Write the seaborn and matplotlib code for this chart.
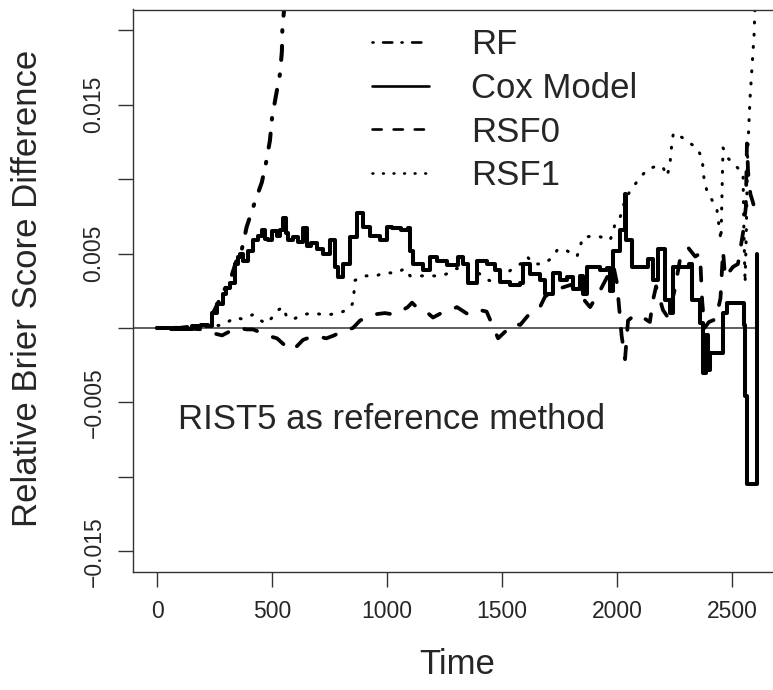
import matplotlib
matplotlib.use("Agg")
import matplotlib.pyplot as plt
from matplotlib.lines import Line2D
import seaborn as sns

# ---------------- data ----------------
cox_t = [0, 60, 150, 190, 222, 239, 260, 287, 300, 317, 339, 350, 361, 375, 395, 418, 440, 456, 470, 484,
         500, 520, 535, 549, 560, 571, 593, 615, 636, 651, 670, 694, 723, 752, 773, 788, 810, 839, 868, 897,
         926, 970, 999, 1020, 1060, 1091, 1100, 1113, 1157, 1187, 1216, 1260, 1309, 1331, 1352, 1391, 1435, 1471, 1491, 1535,
         1579, 1591, 1620, 1665, 1687, 1723, 1752, 1781, 1810, 1839, 1853, 1868, 1897, 1926, 1955, 1970, 1984, 2013, 2035, 2040,
         2064, 2135, 2157, 2180, 2209, 2230, 2243, 2312, 2325, 2361, 2375, 2385, 2395, 2404, 2461, 2477, 2552, 2557, 2565, 2610]
cox_v = [0, -0.0001, 0.0001, 0.0002, 0.0001, 0.001, 0.0016, 0.0023, 0.0027, 0.003, 0.0043, 0.0048, 0.005, 0.0045, 0.0052, 0.0059, 0.0062, 0.0066, 0.006, 0.0059,
         0.0065, 0.0062, 0.0066, 0.0074, 0.0064, 0.0059, 0.0061, 0.0058, 0.0067, 0.0055, 0.0057, 0.0053, 0.005, 0.0059, 0.0041, 0.0034, 0.0043, 0.0061, 0.0077, 0.0068,
         0.0062, 0.0059, 0.0068, 0.0067, 0.0066, 0.0067, 0.0052, 0.0043, 0.0039, 0.0048, 0.0045, 0.0042, 0.0048, 0.0043, 0.003, 0.0045, 0.0043, 0.0039, 0.0031, 0.0029,
         0.003, 0.0043, 0.0036, 0.0032, 0.0023, 0.0037, 0.0032, 0.0034, 0.0026, 0.0035, 0.0023, 0.0041, 0.0041, 0.0039, 0.004, 0.0025, 0.0052, 0.0066, 0.009, 0.0059,
         0.0041, 0.0046, 0.0032, 0.0053, 0.0019, 0.001, 0.0041, 0.0043, 0.0019, 0.0003, -0.003, -0.0005, -0.0028, -0.0017, 0.001, 0.0017, 0.0002, -0.0046, -0.0105, 0.005]

rf_t = [0, 100, 200, 230, 260, 290, 320, 345, 369, 390, 422, 456, 474, 491, 500, 517, 535, 543, 545, 552, 560]
rf_v = [0, 0, 0.0002, 0.0006, 0.0015, 0.0025, 0.0033, 0.0045, 0.0053, 0.0068, 0.0083, 0.0098, 0.0111, 0.0126, 0.0141, 0.0156, 0.0171, 0.0186, 0.0201, 0.0213, 0.0225]

rsf0_t = [0, 100, 200, 230, 283, 320, 354, 390, 418, 450, 478, 522, 565, 587, 610, 635, 670, 709, 736, 770,
          796, 852, 883, 939, 991, 1030, 1057, 1090, 1109, 1135, 1170, 1200, 1248, 1275, 1304, 1354, 1404, 1433, 1461, 1483,
          1510, 1557, 1579, 1622, 1665, 1687, 1720, 1760, 1800, 1840, 1883, 1926, 1960, 1984, 2000, 2020, 2035, 2048, 2080, 2113,
          2143, 2157, 2170, 2200, 2222, 2250, 2274, 2309, 2340, 2361, 2370, 2380, 2400, 2430, 2450, 2461, 2470, 2504, 2526, 2548,
          2560, 2565, 2570, 2580, 2590, 2609]
rsf0_v = [0, 0, -0.0001, -0.0003, -0.0005, -0.0002, 0, -0.0001, -0.0001, -0.0003, -0.0005, -0.0007, -0.0013, -0.0015, -0.0012, -0.0008, -0.0006, -0.0006, -0.0007, -0.0005,
          -0.0003, 0, 0.0005, 0.0009, 0.001, 0.0009, 0.0011, 0.0014, 0.0017, 0.0013, 0.0011, 0.0007, 0.0011, 0.0012, 0.0014, 0.0009, 0.0012, 0.0011, 0.0001, -0.0007,
          -0.0003, 0.0003, 0.0002, 0.001, 0.0014, 0.0021, 0.0025, 0.0027, 0.0029, 0.0022, 0.0014, 0.0025, 0.0035, 0.0042, 0.003, -0.0005, -0.0021, 0.0005, 0.0009, 0.0007,
          0.0004, 0.0019, 0.0028, 0.0012, 0.0007, 0.0025, 0.0046, 0.0054, 0.0048, 0.005, 0.0019, 0.0, 0.0004, 0.0006, 0.002, 0.0052, 0.0034, 0.0041, 0.0043, 0.0064,
          0.0081, 0.0124, 0.0105, 0.009, 0.0085, 0.0074]

rsf1_t = [0, 150, 220, 287, 339, 370, 418, 450, 478, 500, 526, 548, 565, 594, 635, 678, 720, 751, 790, 826,
          845, 852, 856, 861, 896, 954, 983, 1042, 1078, 1100, 1157, 1200, 1237, 1270, 1304, 1348, 1391, 1426, 1461, 1504,
          1548, 1580, 1609, 1637, 1681, 1717, 1743, 1781, 1826, 1852, 1913, 1970, 1984, 1991, 2013, 2035, 2057, 2100, 2135, 2180,
          2200, 2217, 2230, 2235, 2245, 2283, 2309, 2348, 2370, 2378, 2391, 2413, 2435, 2444, 2452, 2456, 2461, 2483, 2522, 2548,
          2552, 2557, 2562, 2568, 2578, 2587, 2596, 2602]
rsf1_v = [0, 0, 0.0001, 0.0002, 0.0007, 0.0006, 0.0009, 0.0005, 0.0003, 0.0007, 0.0012, 0.0014, 0.0007, 0.0006, 0.0009, 0.001, 0.0009, 0.0009, 0.001, 0.0012,
          0.0015, 0.0017, 0.0023, 0.0032, 0.0035, 0.0035, 0.0037, 0.0037, 0.004, 0.0035, 0.0035, 0.0035, 0.0035, 0.0037, 0.004, 0.0037, 0.0038, 0.0033, 0.0031, 0.0035,
          0.004, 0.0043, 0.0048, 0.0043, 0.0043, 0.0047, 0.0053, 0.0052, 0.0048, 0.0061, 0.0062, 0.0059, 0.0065, 0.007, 0.0074, 0.0086, 0.0092, 0.0101, 0.0107, 0.0109,
          0.0108, 0.0102, 0.0109, 0.0119, 0.0131, 0.0128, 0.0125, 0.0121, 0.0114, 0.0101, 0.0092, 0.0086, 0.0079, 0.0068, 0.0059, 0.0086, 0.0121, 0.0114, 0.0108, 0.0104,
          0.0063, 0.003, 0.0063, 0.0117, 0.0153, 0.0175, 0.0197, 0.0225]

series_names = ["RF", "Cox Model", "RSF0", "RSF1"]
y_ticks = [-0.015, -0.01, -0.005, 0, 0.005, 0.01, 0.015, 0.02]
y_ticklabels = ["\u22120.015", "", "\u22120.005", "", "0.005", "", "0.015", ""]
x_ticks = [0, 500, 1000, 1500, 2000, 2500]
x_ticklabels = ["0", "500", "1000", "1500", "2000", "2500"]
annotation = "RIST5 as reference method"
x_label = "Time"
y_label = "Relative Brier Score Difference"

# ---------------- style ----------------
sns.set_style("white")
plt.rcParams["font.family"] = ["Liberation Sans", "DejaVu Sans"]

W, H = 773, 690
fig = plt.figure(figsize=(W / 100, H / 100), dpi=100)
ax_left, ax_right, ax_top, ax_bottom = 133, 781.3, 9.5, 572
ax = fig.add_axes([ax_left / W, 1 - ax_bottom / H, (ax_right - ax_left) / W, (ax_bottom - ax_top) / H])

xlim = (-104.4, 2714.4)
ylim = (-0.0164, 0.0214)

STY = {
    "RF": dict(ls=(0, (0.4, 3.6, 3.5, 3.5)), lw=2.9),
    "Cox Model": dict(ls="-", lw=2.9),
    "RSF0": dict(ls=(0, (3.5, 4.5)), lw=2.7),
    "RSF1": dict(ls=(0, (0.3, 3.7)), lw=2.2),
}

def draw(t, v, name, steps=False):
    sns.lineplot(x=t, y=v, ax=ax, color="black", estimator=None, sort=False,
                 linewidth=STY[name]["lw"], drawstyle="steps-post" if steps else "default")
    ln = ax.lines[-1]
    ln.set_linestyle(STY[name]["ls"])
    ln.set_dash_capstyle("round")
    ln.set_solid_capstyle("round")
    ln.set_solid_joinstyle("round")

ax.hlines(0, xlim[0], cox_t[-1], color="#333333", linewidth=1.1, zorder=1)
draw(rsf1_t, rsf1_v, "RSF1")
draw(rsf0_t, rsf0_v, "RSF0")
draw(rf_t, rf_v, "RF")
draw(cox_t, cox_v, "Cox Model", steps=True)

ax.set_xlim(*xlim)
ax.set_ylim(*ylim)
ax.set_xticks(x_ticks)
ax.set_xticklabels(x_ticklabels, fontsize=16.5)
ax.set_yticks(y_ticks)
ax.set_yticklabels(y_ticklabels, fontsize=16.5, rotation=90, va="center")
ax.tick_params(axis="both", direction="out", length=10.8, width=1.0, color="#333333",
               left=True, bottom=True, pad=9)
for s in ax.spines.values():
    s.set_color("#333333")
    s.set_linewidth(1.0)
ax.set_xlabel("")
ax.set_ylabel("")

fig.text(457 / W, 1 - 664 / H, x_label, fontsize=25, ha="center", va="center")
fig.text(28 / W, 1 - 288 / H, y_label, fontsize=25, ha="center", va="center", rotation=90)

ax.text(91, -0.00676, annotation, fontsize=25, ha="left", va="baseline")

handles = [Line2D([], [], color="black", lw=1.9, ls=STY[n]["ls"], dash_capstyle="round") for n in series_names]
fig.legend(handles, series_names, loc="upper left", bbox_to_anchor=(372 / W, 1 - 28 / H),
           frameon=False, fontsize=25, handlelength=1.65, handletextpad=1.2, labelspacing=0.31,
           borderpad=0, borderaxespad=0)

fig.savefig("out.png", dpi=100)
